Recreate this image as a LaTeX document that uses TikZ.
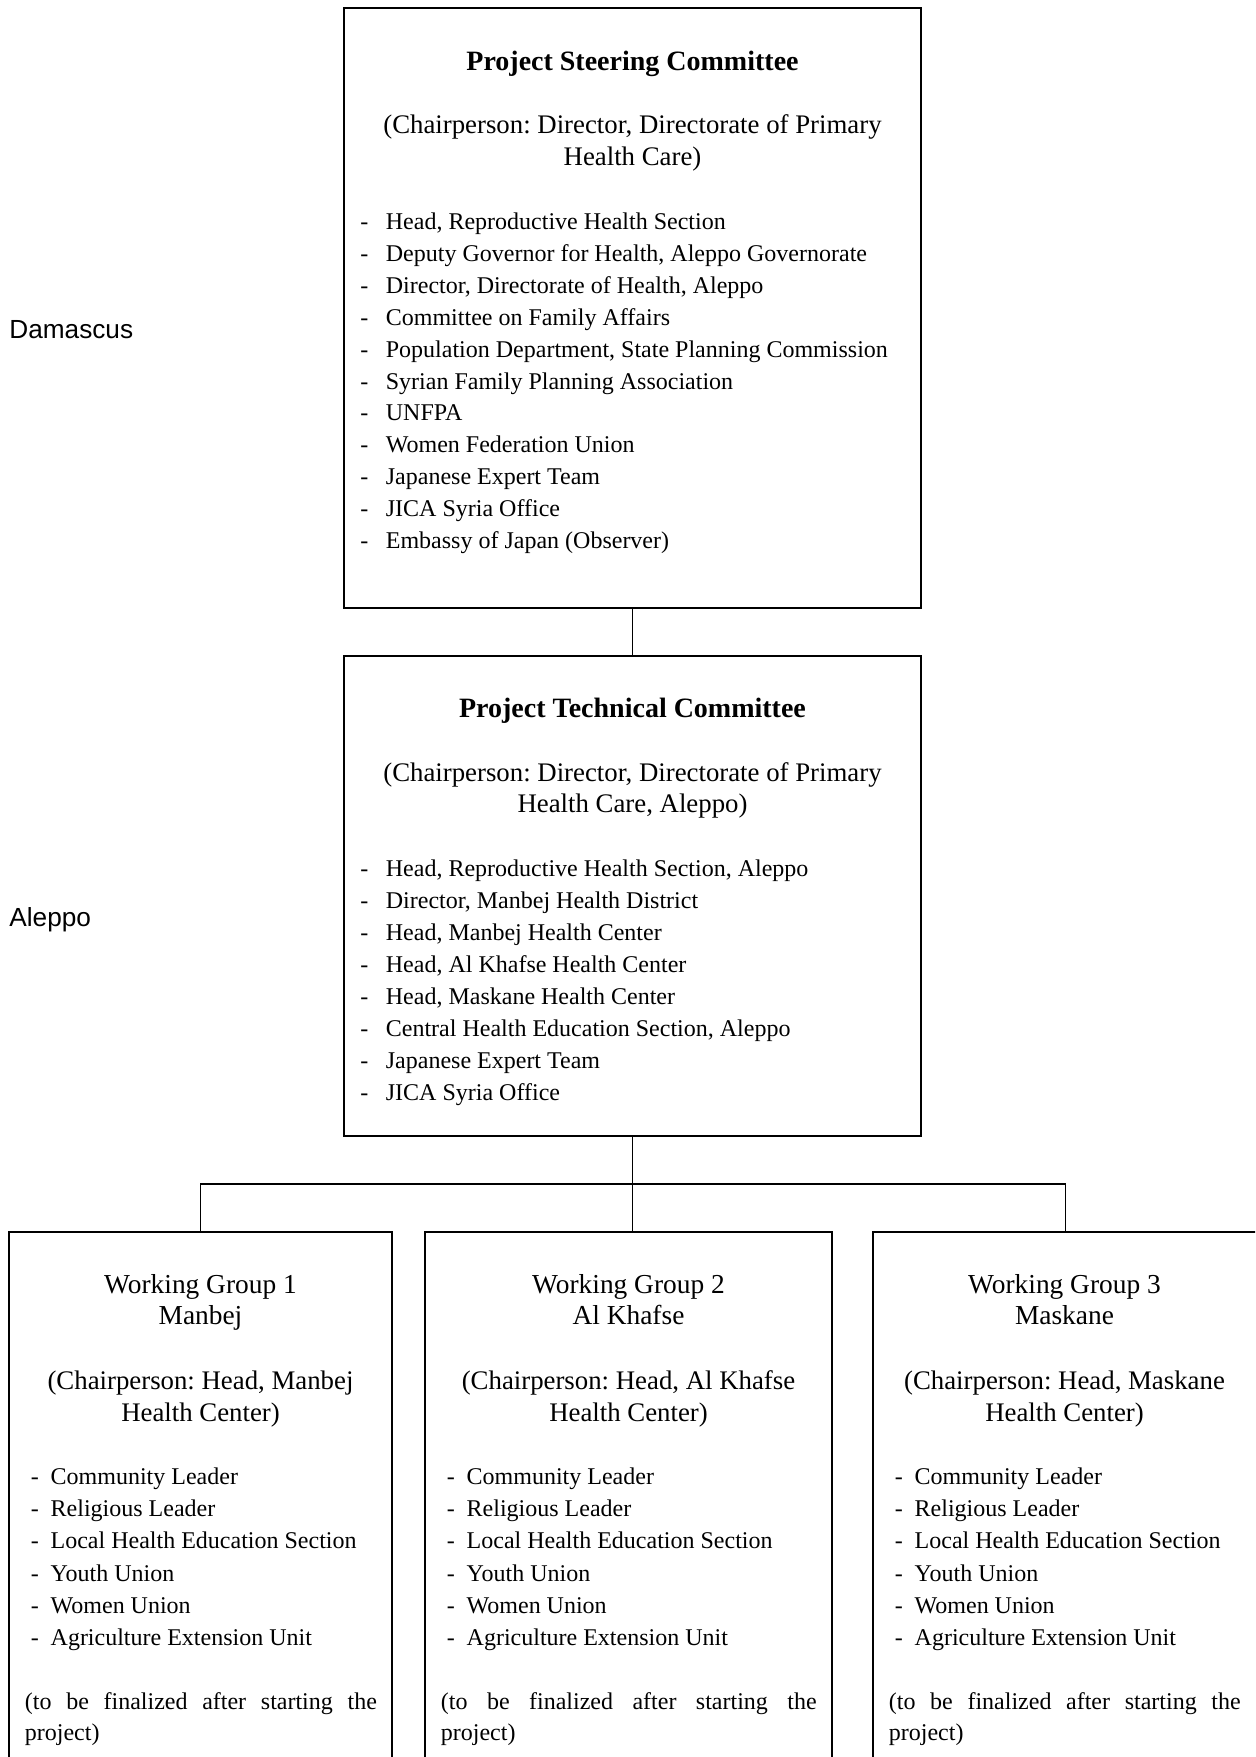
\documentclass[tikz,border=0pt]{standalone}
\usepackage{fontspec}
\setmainfont{Liberation Serif}
\newfontfamily\placefont{Liberation Sans}
\newcommand{\dshA}{\makebox[12.75pt][l]{-}}
\newcommand{\dshB}{\makebox[9.9pt][l]{-}}
\frenchspacing
\begin{document}
\begin{tikzpicture}[x=0.5pt,y=-0.5pt,
  box/.style={draw, line width=1pt, inner sep=0pt, minimum width=#1},
  conn/.style={line width=0.8pt},
  ttl/.style={font=\fontsize{14}{16}\selectfont\bfseries, anchor=base, inner sep=0pt},
  wgt/.style={font=\fontsize{13.7}{16}\selectfont, anchor=base, inner sep=0pt},
  chr/.style={font=\fontsize{13.4}{16}\selectfont, anchor=base, inner sep=0pt},
  itm/.style={font=\fontsize{12}{14}\selectfont, anchor=base west, inner sep=0pt},
  place/.style={font=\placefont\fontsize{13.1}{16}\selectfont, anchor=base west, inner sep=0pt}]
\useasboundingbox (0,0) rectangle (1255,1757);
\clip (0,0) rectangle (1255,1757);

% boxes
\node[box=288.5pt, minimum height=300pt] (psc) at (632.5,308) {};
\node[box=288.5pt, minimum height=240pt] (ptc) at (632.5,896) {};
\node[box=191.5pt, minimum height=284pt] (wg1) at (200.5,1516) {};
\node[box=203.5pt, minimum height=284pt] (wg2) at (628.5,1516) {};
\node[box=192.5pt, minimum height=284pt] (wg3) at (1065.5,1516) {};

% connectors
\coordinate (bar) at (632.5,1184);
\draw[conn] (psc.south) -- (ptc.north);
\draw[conn] (ptc.south) -- (ptc.south |- wg2.north);
\draw[conn] (wg1.north) |- (bar) -| (wg3.north);

% side labels
\node[place] (dam) at (9,338.5) {Damascus};
\node[place] (alp) at (9,926) {Aleppo};

% steering committee
\node[ttl] (psct) at (632.5,70) {Project Steering Committee};
\node[chr] (pscc1) at (632.5,133) {(Chairperson: Director, Directorate of Primary};
\node[chr] (pscc2) at (632.5,165) {Health Care)};
\foreach \t [count=\i] in {{Head, Reproductive Health Section},
  {Deputy Governor for Health, Aleppo Governorate},
  {Director, Directorate of Health, Aleppo},
  {Committee on Family Affairs},
  {Population Department, State Planning Commission},
  {Syrian Family Planning Association},
  {UNFPA},
  {Women Federation Union},
  {Japanese Expert Team},
  {JICA Syria Office},
  {Embassy of Japan (Observer)}}
  \node[itm, name=psci\i] at (360,{229.5+(\i-1)*31.9}) {\dshA\t};

% technical committee
\node[ttl] (ptct) at (632.5,717.5) {Project Technical Committee};
\node[chr] (ptcc1) at (632.5,781) {(Chairperson: Director, Directorate of Primary};
\node[chr] (ptcc2) at (632.5,812.5) {Health Care, Aleppo)};
\foreach \t [count=\i] in {{Head, Reproductive Health Section, Aleppo},
  {Director, Manbej Health District},
  {Head, Manbej Health Center},
  {Head, Al Khafse Health Center},
  {Head, Maskane Health Center},
  {Central Health Education Section, Aleppo},
  {Japanese Expert Team},
  {JICA Syria Office}}
  \node[itm, name=ptci\i] at (360,{876.4+(\i-1)*32.0}) {\dshA\t};

% working groups
\foreach \n/\cx/\lx/\fw/\num/\place in {1/200.5/30.5/176pt/1/Manbej, 2/628.5/446.5/187.9pt/2/Al Khafse, 3/1064.5/894.5/175.9pt/3/Maskane}{
  \node[wgt, name=wg\n t1] at (\cx,1293) {Working Group \num};
  \node[wgt, name=wg\n t2] at (\cx,1324.5) {\place};
  \node[chr, name=wg\n c1] at (\cx,1389.5) {(Chairperson: Head, \place};
  \node[chr, name=wg\n c2] at (\cx,1421) {Health Center)};
  \foreach \t [count=\i] in {{Community Leader},{Religious Leader},
    {Local Health Education Section},{Youth Union},{Women Union},
    {Agriculture Extension Unit}}
    \node[itm, name=wg\n i\i] at (\lx,{1484.8+(\i-1)*32.06}) {\dshB\t};
  \node[itm, name=wg\n f1] at ({\lx-6},1709) {\makebox[\fw][s]{(to be finalized after starting the}};
  \node[itm, name=wg\n f2] at ({\lx-6},1740.3) {project)};
}
\end{tikzpicture}
\end{document}
